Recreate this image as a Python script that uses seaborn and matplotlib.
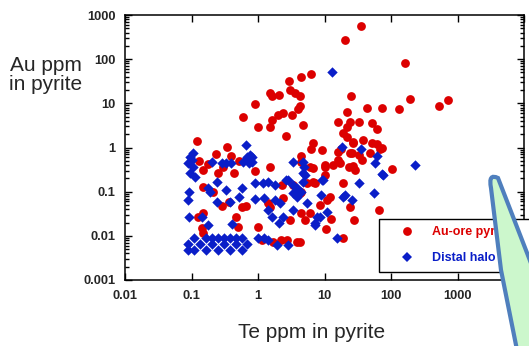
import numpy as np
import pandas as pd
import seaborn as sns
import matplotlib.pyplot as plt
from matplotlib.lines import Line2D
from matplotlib.path import Path
from matplotlib.patches import PathPatch
from matplotlib.ticker import LogLocator, FixedLocator, NullLocator, FixedFormatter

# Au-ore pyrite: Te ppm, Au ppm
ore_te = [35, 20, 160, 4.5, 6.3, 2.9, 1.5, 1.65, 2.1, 3.05, 3.6, 4.3, 0.9, 4.3, 4.0,
          2.0, 2.4, 3.3, 1.65, 1.5, 0.6, 1.0, 4.8, 2.6, 0.12, 0.34, 0.23, 0.39, 6.8, 6.3,
          9.2, 4.5, 16, 25, 190, 730, 530, 44, 74, 130, 22, 24, 33, 52, 61, 22, 19, 22,
          38, 27, 52, 62, 69, 18, 26, 33, 49,
          0.13, 0.15, 0.18, 0.25, 0.3, 0.44, 0.9, 0.52, 0.15, 0.21, 0.29, 0.37, 0.57, 0.66,
          0.47, 0.5, 0.125, 0.15, 0.145, 0.15, 1.0, 1.53, 1.53, 6.1, 6.8, 3.4, 3.05, 4.5,
          5.1, 2.4, 1.7, 2.2, 2.7, 3.9, 4.3, 1.15, 1.4, 66, 28, 10.6, 19, 104, 19, 24.5,
          12.6, 6.8, 10.3, 27, 37, 17.3, 5.5, 4.3, 7.3, 12.2, 8.6, 6.1, 11,
          4.5, 10.3, 4.5, 2.3, 10.3, 13.5, 16, 23, 29, 16, 24.5, 74, 27]
ore_au = [560, 270, 80, 39, 46, 32, 17, 14.6, 15.3, 20, 17, 14.6, 9.6, 8.6, 7.4,
          5.4, 6.0, 5.4, 4.2, 2.9, 4.9, 2.9, 3.2, 1.8, 1.4, 1.02, 0.7, 0.64, 1.26, 0.92,
          0.87, 0.64, 3.8, 14.6, 12.4, 11.8, 8.6, 7.8, 7.8, 7.4, 6.3, 3.8, 3.8, 3.6, 2.6, 2.9, 2.1, 1.7,
          1.47, 1.26, 1.26, 1.19, 0.92, 0.92, 0.75, 0.67, 0.75,
          0.5, 0.31, 0.42, 0.26, 0.36, 0.26, 0.29, 0.5, 0.127, 0.098, 0.047, 0.058, 0.045, 0.047,
          0.027, 0.016, 0.027, 0.033, 0.015, 0.0116, 0.016, 0.36, 0.045, 0.36, 0.165, 0.141, 0.023, 0.033,
          0.023, 0.072, 0.0072, 0.008, 0.008, 0.0072, 0.0072, 0.008, 0.055, 0.038, 0.023, 0.0143, 0.0089, 0.32, 0.157, 0.045,
          0.024, 0.34, 0.4, 0.38, 0.52, 0.44, 0.157, 0.093, 0.157, 0.075, 0.05, 0.033, 0.065,
          0.47, 0.36, 0.098, 0.14, 0.24, 0.4, 0.52, 0.36, 0.31, 0.8, 0.75, 0.95, 1.35]

# Distal halo pyrite: Te ppm, Au ppm
halo_te = [13, 0.66, 18.5, 36, 62, 233, 77, 33, 55, 26, 19, 8.9, 9.5, 5.1, 11, 8.6, 7.3, 15.5,
           58, 74, 20.6,
           0.095, 0.089, 0.105, 0.095, 0.113, 0.1, 0.105, 0.2, 0.29, 0.33, 0.39, 0.68, 0.6, 0.73,
           0.81, 0.24, 0.18, 0.19, 0.24, 0.33, 0.38, 0.52, 0.58, 0.41, 0.092, 0.089, 0.092, 0.145,
           0.18, 0.9, 0.9, 1.2, 1.4, 1.8, 1.24, 1.4, 1.6, 1.8, 2.16, 2.4, 2.1, 3.4, 4.8, 5.0, 4.8,
           2.8, 3.9, 4.5, 3.9, 3.4, 5.5, 7.3, 7.8, 0.76, 0.81, 2.6, 3.4, 4.8, 3.4, 9.2,
           0.11, 0.165, 0.2, 0.25, 0.31, 0.38, 0.47, 0.58,
           0.09, 0.135, 0.2, 0.31, 0.47, 0.68,
           0.09, 0.11, 0.165, 0.25, 0.38, 0.58,
           1.0, 1.25, 1.4, 1.9, 2.8]
halo_au = [51, 1.13, 1.02, 0.92, 0.64, 0.4, 0.24, 0.157, 0.093, 0.065, 0.075, 0.084, 0.18, 0.24, 0.035, 0.027, 0.0175, 0.0089,
           0.44, 0.25, 0.084,
           0.61, 0.44, 0.36, 0.26, 0.21, 0.52, 0.75, 0.47, 0.44, 0.44, 0.44, 0.61, 0.47, 0.44,
           0.61, 0.165, 0.12, 0.098, 0.058, 0.109, 0.058, 0.075, 0.12, 0.0185, 0.098, 0.065, 0.027, 0.027,
           0.0175, 0.157, 0.07, 0.157, 0.165, 0.141, 0.072, 0.038, 0.027, 0.065, 0.055, 0.027, 0.0195, 0.47, 0.47, 0.36, 0.26,
           0.18, 0.12, 0.098, 0.075, 0.038, 0.055, 0.0195, 0.027, 0.67, 0.47, 0.18, 0.141, 0.165, 0.093, 0.18,
           0.0089, 0.0089, 0.0089, 0.0089, 0.0089, 0.0089, 0.0089, 0.0089,
           0.0065, 0.0065, 0.0065, 0.0065, 0.0065, 0.0065,
           0.0048, 0.0048, 0.0048, 0.0048, 0.0048, 0.0048,
           0.009, 0.009, 0.008, 0.0062, 0.0062]

labels = ['Au-ore pyrite', 'Distal halo pyrite']
red = '#dc0000'
blue = '#0a1ec8'

df = pd.DataFrame({
    'Te': ore_te + halo_te,
    'Au': ore_au + halo_au,
    'group': [labels[0]] * len(ore_te) + [labels[1]] * len(halo_te),
})

sns.set_style('ticks')
plt.rcParams['font.family'] = ['Liberation Sans', 'DejaVu Sans']

fig = plt.figure(figsize=(5.29, 3.46), dpi=100)
ax = fig.add_axes([125 / 529, 1 - 280 / 346, 399 / 529, 265 / 346])

sns.scatterplot(data=df[df.group == labels[0]], x='Te', y='Au', ax=ax, color=red,
                marker='o', s=40, linewidth=0, legend=False, zorder=3)
sns.scatterplot(data=df[df.group == labels[1]], x='Te', y='Au', ax=ax, color=blue,
                marker='D', s=28, linewidth=0, legend=False, zorder=4)

ax.set_xscale('log')
ax.set_yscale('log')
ax.set_xlim(0.01, 10000)
ax.set_ylim(0.001, 1000)
ax.set_xlabel('')
ax.set_ylabel('')

xt = [0.01, 0.1, 1, 10, 100, 1000, 10000]
yt = [0.001, 0.01, 0.1, 1, 10, 100, 1000]
ax.xaxis.set_major_locator(FixedLocator(xt))
ax.xaxis.set_major_formatter(FixedFormatter(['0.01', '0.1', '1', '10', '100', '1000', '']))
ax.xaxis.set_minor_locator(NullLocator())
ax.yaxis.set_major_locator(FixedLocator(yt))
ax.yaxis.set_major_formatter(FixedFormatter(['0.001', '0.01', '0.1', '1', '10', '100', '1000']))
ax.yaxis.set_minor_locator(LogLocator(base=10, subs=np.arange(2, 10), numticks=20))

ax.tick_params(which='both', direction='in', top=True, right=True, width=1, color='black')
ax.tick_params(which='major', length=5, pad=7, labelsize=9.3)
ax.tick_params(which='minor', length=3)
for lab in ax.get_xticklabels() + ax.get_yticklabels():
    lab.set_fontweight('bold')
for sp in ax.spines.values():
    sp.set_linewidth(1.1)
    sp.set_color('black')

fig.text(46 / 529, 1 - 75 / 346, 'Au ppm\nin pyrite', ha='center', va='center',
         fontsize=15, linespacing=1.0)
fig.text(312 / 529, 1 - 333 / 346, 'Te ppm in pyrite', ha='center', va='center', fontsize=15)

handles = [Line2D([], [], marker='o', color=red, linestyle='', markersize=6.3, markeredgewidth=0),
           Line2D([], [], marker='D', color=blue, linestyle='', markersize=5.3, markeredgewidth=0)]
leg = ax.legend(handles, labels, loc='upper left', bbox_to_anchor=(379 / 529, 1 - 219 / 346),
                bbox_transform=fig.transFigure, borderaxespad=0, fancybox=False,
                frameon=True, edgecolor='black', framealpha=1, prop={'weight': 'bold', 'size': 9},
                handlelength=3.3, handletextpad=0.3, labelspacing=1.1, borderpad=0.6)
leg.get_frame().set_linewidth(1)
for txt, c in zip(leg.get_texts(), [red, blue]):
    txt.set_color(c)

# green callout bubble overlapping the right edge
pts = [(517, 350), (501, 270), (491, 188), (488, 173), (498, 178), (529, 258), (545, 300), (545, 350), (517, 350)]
codes = [Path.MOVETO, Path.LINETO, Path.LINETO, Path.CURVE3, Path.CURVE3, Path.LINETO, Path.LINETO, Path.LINETO, Path.CLOSEPOLY]
verts = [(x / 529, 1 - y / 346) for x, y in pts]
bubble = PathPatch(Path(verts, codes), transform=fig.transFigure, facecolor='#ccf7cc',
                   edgecolor='#4f7fbd', linewidth=3, zorder=5)
fig.patches.append(bubble)

fig.savefig('out.png', dpi=100)
